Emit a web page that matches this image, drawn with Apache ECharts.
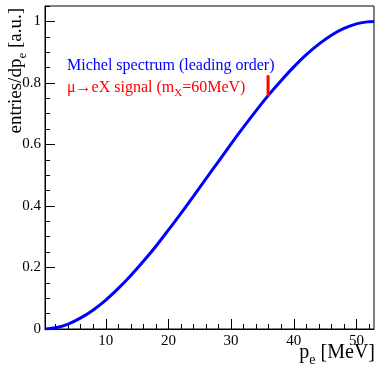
<!DOCTYPE html>
<html>
<head>
<meta charset="utf-8">
<script src="https://cdn.jsdelivr.net/npm/echarts@6/dist/echarts.min.js"></script>
<style>
  html, body { margin: 0; padding: 0; background: #fff; }
  #chart { width: 377px; height: 366px; }
</style>
</head>
<body>
<div id="chart"></div>
<script>
// Michel positron spectrum (leading order), normalised to its endpoint
const momentum = [0.3, 2, 4, 6, 8, 10, 12, 14, 16, 18, 20, 22, 24, 26, 28, 30,
                  32, 34, 36, 38, 40, 42, 44, 46, 48, 50, 52, 52.8];
const entries  = [0.000, 0.004, 0.016, 0.036, 0.062, 0.094, 0.132, 0.174, 0.220,
                  0.269, 0.322, 0.376, 0.432, 0.489, 0.545, 0.602, 0.657, 0.710,
                  0.761, 0.808, 0.852, 0.892, 0.926, 0.955, 0.977, 0.992, 0.999, 1.000];

// mono-energetic signal line for mu -> eX with m_X = 60 MeV
const signalMomentum = 35.9;
const signalRange = [0.757, 0.825];

// axis ticks
const xMajorTicks = [10, 20, 30, 40, 50];
const xMinorTicks = [2, 4, 6, 8, 12, 14, 16, 18, 22, 24, 26, 28, 32, 34, 36, 38,
                     42, 44, 46, 48, 52];
const yMajorTicks = [0, 0.2, 0.4, 0.6, 0.8, 1];
const yMinorTicks = [0.05, 0.1, 0.15, 0.25, 0.3, 0.35, 0.45, 0.5, 0.55, 0.65, 0.7,
                     0.75, 0.85, 0.9, 0.95, 1.05];

const FONT = '"Liberation Serif", "Times New Roman", serif';
const X_MIN = 0.3, X_MAX = 52.8, Y_MIN = 0, Y_MAX = 1.05;

const curve = momentum.map((p, i) => [p, entries[i]]);
const signal = signalRange.map(v => [signalMomentum, v]);

const chart = echarts.init(document.getElementById('chart'), null, { renderer: 'canvas' });

const majorX = {
  type: 'value', min: X_MIN, max: X_MAX, position: 'bottom',
  axisLine: { show: true, lineStyle: { color: '#000', width: 1 } },
  axisTick: { show: true, inside: true, length: 10, customValues: xMajorTicks,
              lineStyle: { color: '#000', width: 1 } },
  axisLabel: { show: true, customValues: xMajorTicks, margin: 5,
               fontFamily: FONT, fontSize: 15, color: '#000' },
  splitLine: { show: false }
};
const minorX = {
  type: 'value', min: X_MIN, max: X_MAX, position: 'bottom',
  axisLine: { show: false },
  axisTick: { show: true, inside: true, length: 5, customValues: xMinorTicks,
              lineStyle: { color: '#000', width: 1 } },
  axisLabel: { show: false },
  splitLine: { show: false }
};
const majorY = {
  type: 'value', min: Y_MIN, max: Y_MAX, position: 'left',
  axisLine: { show: true, lineStyle: { color: '#000', width: 1 } },
  axisTick: { show: true, inside: true, length: 10, customValues: yMajorTicks,
              lineStyle: { color: '#000', width: 1 } },
  axisLabel: { show: true, customValues: yMajorTicks, margin: 4,
               fontFamily: FONT, fontSize: 15, color: '#000' },
  splitLine: { show: false }
};
const minorY = {
  type: 'value', min: Y_MIN, max: Y_MAX, position: 'left',
  axisLine: { show: false },
  axisTick: { show: true, inside: true, length: 5, customValues: yMinorTicks,
              lineStyle: { color: '#000', width: 1 } },
  axisLabel: { show: false },
  splitLine: { show: false }
};

// rich-text styles for a label with one subscript token
const subRich = (size, color) => ({
  a: { fontFamily: FONT, fontSize: size, fill: color, verticalAlign: 'top',
       lineHeight: size + 2 },
  s: { fontFamily: FONT, fontSize: Math.round(size * 0.68), fill: color,
       verticalAlign: 'top', lineHeight: Math.round(size * 0.68),
       padding: [Math.round(size * 0.5), 0, 0, 0] }
});

chart.setOption({
  animation: false,
  backgroundColor: '#fff',
  grid: { left: 45, right: 3, top: 6, bottom: 37, show: true,
          borderColor: '#000', borderWidth: 1, backgroundColor: 'transparent' },
  xAxis: [majorX, minorX],
  yAxis: [majorY, minorY],
  series: [
    {
      name: 'Michel spectrum (leading order)',
      type: 'line', xAxisIndex: 0, yAxisIndex: 0,
      data: curve, smooth: 0.3,
      symbol: 'none', clip: true,
      lineStyle: { color: '#0000ff', width: 3 }
    },
    {
      name: 'mu -> eX signal',
      type: 'line', xAxisIndex: 0, yAxisIndex: 0,
      data: signal, symbol: 'none',
      lineStyle: { color: '#ff0000', width: 3 }
    }
  ],
  graphic: [
    {
      type: 'text', x: 17, y: 8, rotation: Math.PI / 2,
      style: { text: '{a|entries/dp}{s|e}{a| [a.u.]}', align: 'right',
               verticalAlign: 'middle', rich: subRich(19, '#000') }
    },
    {
      type: 'text', x: 375, y: 354,
      style: { text: '{a|p}{s|e}{a| [MeV]}', align: 'right',
               verticalAlign: 'middle', rich: subRich(20, '#000') }
    },
    {
      type: 'text', x: 67, y: 66,
      style: { text: 'Michel spectrum (leading order)', align: 'left',
               verticalAlign: 'middle', fontFamily: FONT, fontSize: 16,
               fill: '#0000ff' }
    },
    {
      type: 'text', x: 67, y: 89,
      style: { text: '{a|μ→eX signal (m}{s|X}{a|=60MeV)}', align: 'left',
               verticalAlign: 'middle', fill: '#ff0000',
               rich: subRich(16, '#ff0000') }
    }
  ]
});
</script>
</body>
</html>
